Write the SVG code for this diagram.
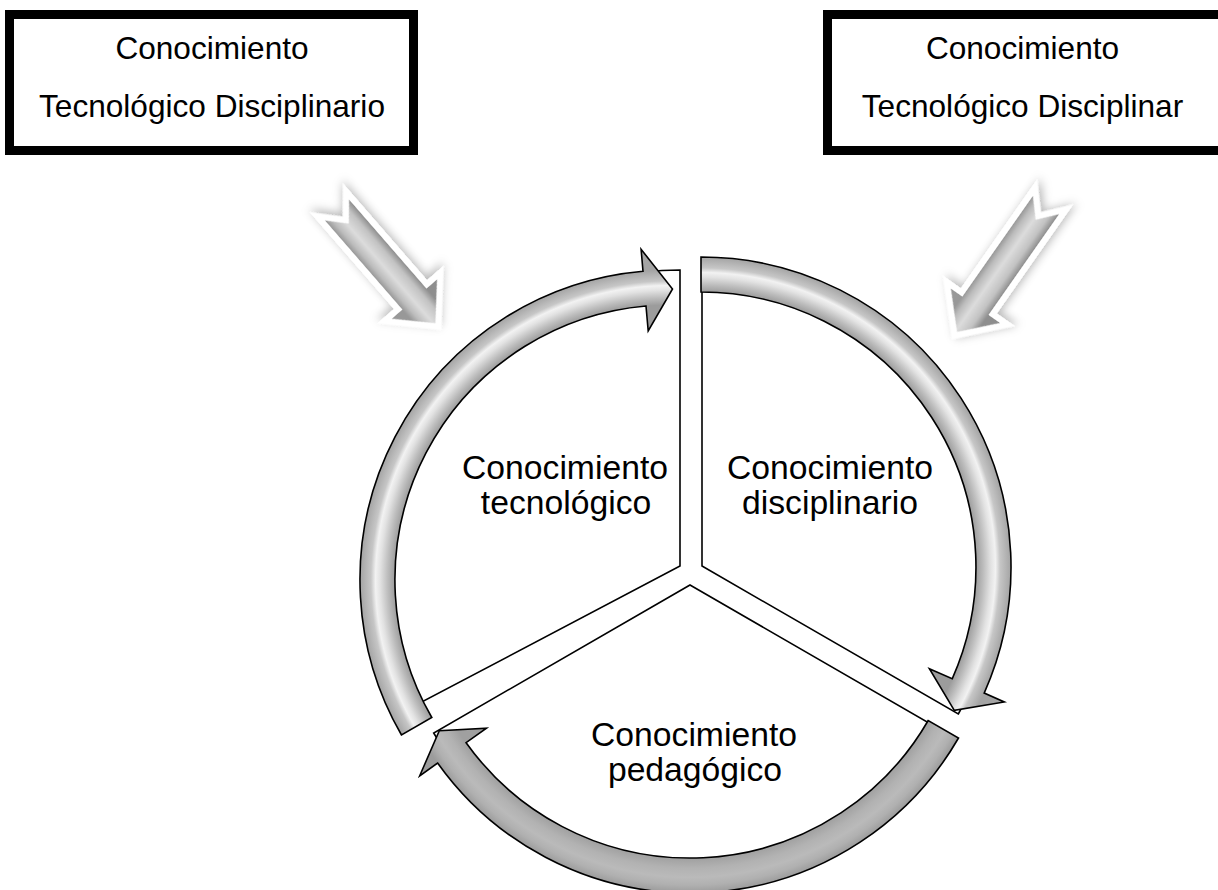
<svg xmlns="http://www.w3.org/2000/svg" width="1218" height="890" viewBox="0 0 1218 890">
<style>
.box{fill:#fff;stroke:#000;stroke-width:9}
.bt{font-family:"Liberation Sans",Arial,sans-serif;font-size:31.6px;fill:#000;text-anchor:middle}
.st{font-family:"Liberation Sans",Arial,sans-serif;font-size:33.7px;fill:#000;text-anchor:middle}
.slice{fill:#fff;stroke:#000;stroke-width:1.6;stroke-linejoin:miter}
.carrow{stroke:#000;stroke-width:1.6;stroke-linejoin:miter}
.darrow{fill:url(#bevel);stroke:#fff;stroke-width:12;paint-order:stroke;stroke-linejoin:miter;filter:url(#shadow)}
</style>
<defs>
<radialGradient id="gR" gradientUnits="userSpaceOnUse" cx="701" cy="567" r="310">
<stop offset="0.887" stop-color="#9c9c9c"/><stop offset="0.91" stop-color="#bcbcbc"/><stop offset="0.935" stop-color="#e2e2e2"/><stop offset="0.95" stop-color="#f2f2f2"/><stop offset="0.965" stop-color="#c6c6c6"/><stop offset="1" stop-color="#a4a4a4"/>
</radialGradient>
<radialGradient id="gL" gradientUnits="userSpaceOnUse" cx="670" cy="580" r="310">
<stop offset="0.887" stop-color="#9c9c9c"/><stop offset="0.91" stop-color="#bcbcbc"/><stop offset="0.935" stop-color="#e2e2e2"/><stop offset="0.95" stop-color="#f2f2f2"/><stop offset="0.965" stop-color="#c6c6c6"/><stop offset="1" stop-color="#a4a4a4"/>
</radialGradient>
<radialGradient id="gB" gradientUnits="userSpaceOnUse" cx="690" cy="583" r="310">
<stop offset="0.887" stop-color="#a0a0a0"/><stop offset="0.92" stop-color="#b2b2b2"/><stop offset="0.95" stop-color="#bababa"/><stop offset="0.975" stop-color="#b0b0b0"/><stop offset="1" stop-color="#9c9c9c"/>
</radialGradient>
<linearGradient id="bevel" gradientUnits="userSpaceOnUse" x1="0" y1="-16" x2="0" y2="16">
<stop offset="0" stop-color="#8e8e8e"/><stop offset="0.22" stop-color="#c2c2c2"/><stop offset="0.55" stop-color="#dcdcdc"/><stop offset="0.82" stop-color="#bdbdbd"/><stop offset="1" stop-color="#989898"/>
</linearGradient>
<filter id="shadow" x="-40%" y="-40%" width="180%" height="180%">
<feGaussianBlur in="SourceAlpha" stdDeviation="5"/>
<feOffset dx="-3" dy="-2" result="b"/>
<feFlood flood-color="#000" flood-opacity="0.28"/>
<feComposite in2="b" operator="in" result="s"/>
<feMerge><feMergeNode in="s"/><feMergeNode in="SourceGraphic"/></feMerge>
</filter>
</defs>

<g id="box-left">
<rect class="box" x="9.5" y="14.5" width="404" height="136"/>
<text class="bt" x="212" y="59">Conocimiento</text>
<text class="bt" x="212" y="117">Tecnológico Disciplinario</text>
</g>
<g id="box-right">
<rect class="box" x="827.5" y="14.5" width="400" height="136"/>
<text class="bt" x="1022.5" y="59">Conocimiento</text>
<text class="bt" x="1022.5" y="117">Tecnológico Disciplinar</text>
</g>

<g id="slice-tecnologico">
<path class="slice" d="M680,566 L680,270 A296,296 0 0 0 418,704 Z"/>
<text class="st" x="565" y="479">Conocimiento</text>
<text class="st" x="566" y="514">tecnológico</text>
</g>
<g id="slice-disciplinario">
<path class="slice" d="M702,566 L702,270 A296,296 0 0 1 958.3,714 Z"/>
<text class="st" x="830" y="479">Conocimiento</text>
<text class="st" x="830" y="514">disciplinario</text>
</g>
<g id="slice-pedagogico">
<path class="slice" d="M690,585 L946.3,733 A296,296 0 0 1 433.7,733 Z"/>
<text class="st" x="694" y="746">Conocimiento</text>
<text class="st" x="695" y="781">pedagógico</text>
</g>

<g id="connectors">
<path class="carrow" fill="url(#gL)" d="M401.5,735 A310,310 0 0 1 643,271.2 L641.1,249.3 L672.5,289 L648.2,331 L646,306 A275,275 0 0 0 431.8,717.5 Z"/>
<path class="carrow" fill="url(#gR)" d="M701,257 A310,310 0 0 1 984.2,693.1 L1004.3,702 L954.3,710.3 L929.4,668.7 L952.2,678.8 A275,275 0 0 0 701,292 Z"/>
<path class="carrow" fill="url(#gB)" d="M958.5,738 A310,310 0 0 1 437.6,763 L419.7,775.8 L439.3,730.7 L486.5,728.2 L466.1,742.7 A275,275 0 0 0 928.2,720.5 Z"/>
<polygon class="darrow" transform="translate(337,210) rotate(49)" points="0,-16 118,-16 118,-30 150,0 118,30 118,16 0,16 18,0"/>
<polygon class="darrow" transform="translate(1046,205) rotate(125)" points="0,-16 123,-16 123,-30 155,0 123,30 123,16 0,16 18,0"/>
</g>
</svg>
